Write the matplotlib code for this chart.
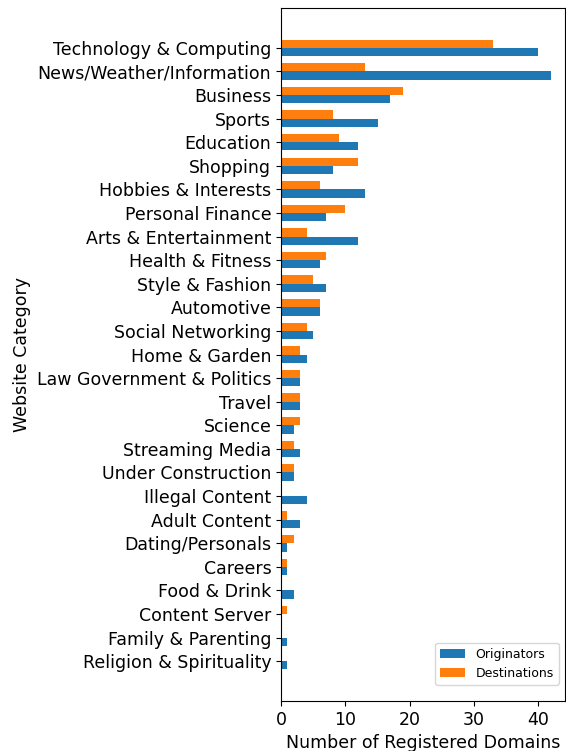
import numpy as np
import matplotlib
matplotlib.use("Agg")
import matplotlib.pyplot as plt

categories = [
    "Technology & Computing", "News/Weather/Information", "Business", "Sports",
    "Education", "Shopping", "Hobbies & Interests", "Personal Finance",
    "Arts & Entertainment", "Health & Fitness", "Style & Fashion", "Automotive",
    "Social Networking", "Home & Garden", "Law Government & Politics", "Travel",
    "Science", "Streaming Media", "Under Construction", "Illegal Content",
    "Adult Content", "Dating/Personals", "Careers", "Food & Drink",
    "Content Server", "Family & Parenting", "Religion & Spirituality",
]
originators = [40, 42, 17, 15, 12, 8, 13, 7, 12, 6, 7, 6, 5, 4, 3, 3, 2, 3, 2, 4,
               3, 1, 1, 2, 0, 1, 1]
destinations = [33, 13, 19, 8, 9, 12, 6, 10, 4, 7, 5, 6, 4, 3, 3, 3, 3, 2, 2, 0,
                1, 2, 1, 0, 1, 0, 0]

plt.rcParams['font.size'] = 12.5

fig, ax = plt.subplots(figsize=(5.66, 7.51), dpi=100)
fig.subplots_adjust(left=0.4965, right=0.998, top=0.9893, bottom=0.0666)

y = np.arange(len(categories))
h = 0.35
ax.barh(y + h / 2, originators, height=h, color="#1f77b4", label="Originators")
ax.barh(y - h / 2, destinations, height=h, color="#ff7f0e", label="Destinations")

ax.set_yticks(y)
ax.set_yticklabels(categories)
ax.invert_yaxis()
ax.set_xticks([0, 10, 20, 30, 40])
ax.set_xlabel("Number of Registered Domains")
ax.set_ylabel("Website Category")
ax.legend(loc="lower right", bbox_to_anchor=(1.0, 0.0144), fontsize=9)

fig.savefig("out.png")
